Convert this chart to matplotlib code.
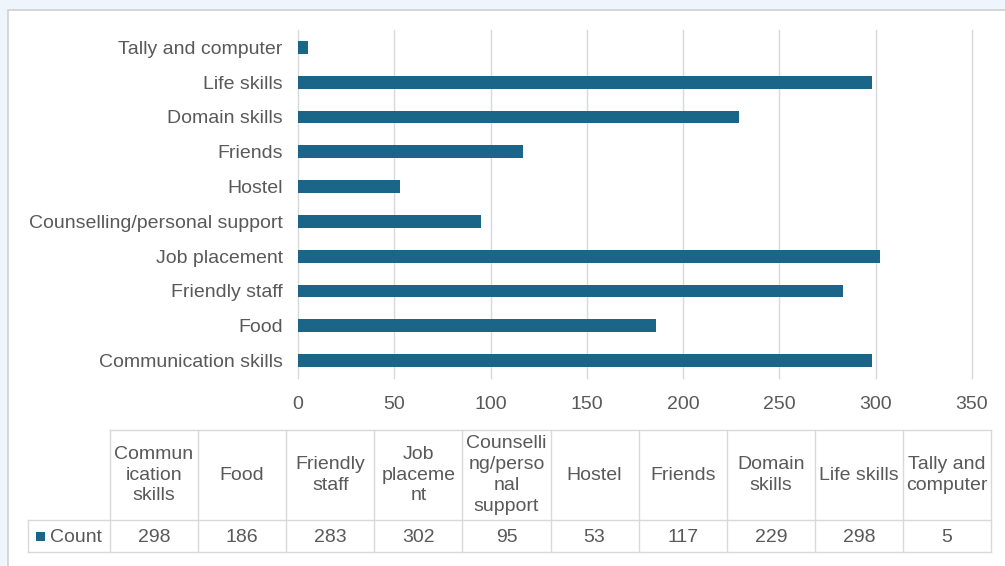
import matplotlib.pyplot as plt
from matplotlib.patches import Rectangle

categories = ["Communication skills", "Food", "Friendly staff", "Job placement",
              "Counselling/personal support", "Hostel", "Friends", "Domain skills",
              "Life skills", "Tally and computer"]
header_labels = ["Commun\nication\nskills", "Food", "Friendly\nstaff", "Job\nplaceme\nnt",
                 "Counselli\nng/perso\nnal\nsupport", "Hostel", "Friends", "Domain\nskills",
                 "Life skills", "Tally and\ncomputer"]
counts = [298, 186, 283, 302, 95, 53, 117, 229, 298, 5]
series_name = "Count"
xticks = [0, 50, 100, 150, 200, 250, 300, 350]

BAR = "#1b6589"
TXT = "#595959"
GRID = "#d9d9d9"
W, H = 1005, 566
FS = 14

plt.rcParams["font.family"] = ["Liberation Sans", "DejaVu Sans"]

fig = plt.figure(figsize=(W / 100, H / 100), dpi=100)
fig.patch.set_facecolor("#eef5fc")

# overlay in pixel coordinates for the panel and data table
bg = fig.add_axes([0, 0, 1, 1], zorder=0)
bg.set_xlim(0, W)
bg.set_ylim(H, 0)
bg.axis("off")
bg.add_patch(Rectangle((8, 10), W + 10, H, facecolor="white", edgecolor="#d0d0d0", lw=1.2))

# bar chart
ax = fig.add_axes([298 / W, 1 - 378 / H, 674 / W, 348 / H], zorder=1)
ax.patch.set_alpha(0)
ax.barh(range(len(categories)), counts, height=0.37, color=BAR)
ax.set_xlim(0, 350)
ax.set_ylim(-0.5, len(categories) - 0.5)
ax.set_xticks(xticks)
ax.set_yticks(range(len(categories)))
ax.set_yticklabels(categories)
ax.xaxis.grid(True, color=GRID, lw=1)
for gl in ax.get_xgridlines():
    gl.set_clip_on(False)
ax.set_axisbelow(True)
for s in ax.spines.values():
    s.set_visible(False)
ax.tick_params(length=0, colors=TXT, labelsize=FS)
ax.tick_params(axis="y", pad=11)
ax.tick_params(axis="x", pad=13)

# data table
x0, cw = 110, 88.1
y_top, y_mid, y_bot = 430, 520, 552
row_left = 28
x_end = x0 + cw * len(categories)
lc = "#d9d9d9"
bg.plot([x0, x_end], [y_top, y_top], color=lc, lw=1, zorder=2)
bg.plot([row_left, x_end], [y_mid, y_mid], color=lc, lw=1, zorder=2)
bg.plot([row_left, x_end], [y_bot, y_bot], color=lc, lw=1, zorder=2)
bg.plot([row_left, row_left], [y_mid, y_bot], color=lc, lw=1, zorder=2)
for i in range(len(categories) + 1):
    bg.plot([x0 + i * cw] * 2, [y_top, y_bot], color=lc, lw=1, zorder=2)
for i, (lab, val) in enumerate(zip(header_labels, counts)):
    cx = x0 + (i + 0.5) * cw
    bg.text(cx, (y_top + y_mid) / 2, lab, ha="center", va="center", color=TXT,
            fontsize=FS, linespacing=1.3, zorder=3)
    bg.text(cx, (y_mid + y_bot) / 2 + 1, str(val), ha="center", va="center", color=TXT,
            fontsize=FS, zorder=3)
bg.add_patch(Rectangle((36, 532), 9, 9, facecolor=BAR, edgecolor="none", zorder=3))
bg.text(50, (y_mid + y_bot) / 2 + 1, series_name, ha="left", va="center", color=TXT,
        fontsize=FS, zorder=3)

fig.savefig("out.png", dpi=100, facecolor=fig.get_facecolor())
